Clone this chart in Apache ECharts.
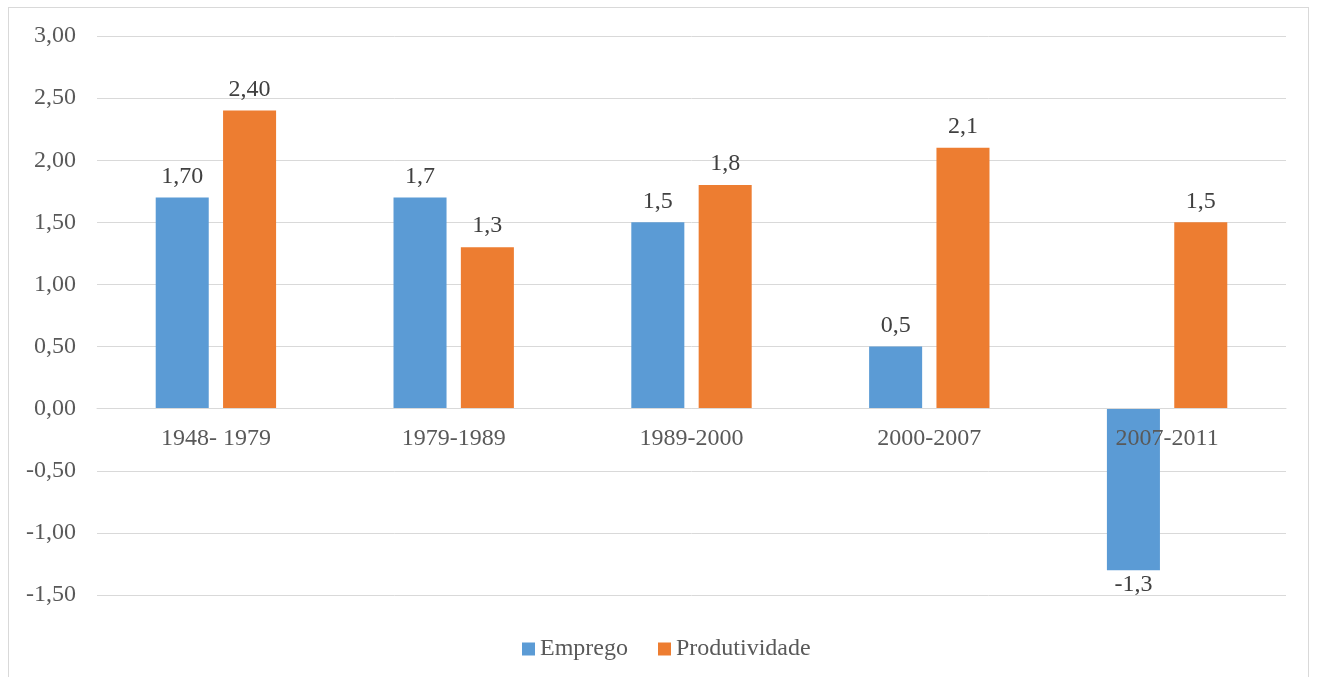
<!DOCTYPE html>
<html>
<head>
    <meta charset="utf-8">
    <title>Emprego e Produtividade</title>
    <style>
        html, body { margin: 0; padding: 0; background: #fff; }
        #frame { position: absolute; left: 8px; top: 7px; width: 1301px; height: 680px; border: 1px solid #d9d9d9; box-sizing: border-box; }
        #chart1 { position: absolute; left: 0; top: 0; width: 1319px; height: 677px; }
    </style>
</head>
<body>
<div id="frame"></div>
<div id="chart1"></div>
<script src="https://cdn.jsdelivr.net/npm/echarts@6/dist/echarts.min.js"></script>
<script type="text/javascript">
    // dados do gráfico
    const periodos = ['1948- 1979', '1979-1989', '1989-2000', '2000-2007', '2007-2011'];
    const emprego = [1.7, 1.7, 1.5, 0.5, -1.3];
    const produtividade = [2.4, 1.3, 1.8, 2.1, 1.5];
    // rótulos como aparecem no original
    const rotulosEmprego = ['1,70', '1,7', '1,5', '0,5', '-1,3'];
    const rotulosProdutividade = ['2,40', '1,3', '1,8', '2,1', '1,5'];

    const fonte = '"Liberation Serif", "Times New Roman", serif';

    function montar(valores, rotulos) {
        return valores.map((v, i) => ({
            value: v,
            label: v < 0
                ? { position: 'bottom', distance: 3, formatter: rotulos[i] }
                : { position: 'top', distance: 9, formatter: rotulos[i] }
        }));
    }

    let myChart1 = echarts.init(document.getElementById('chart1'));
    myChart1.setOption({
        animation: false,
        grid: { left: 97, right: 33, top: 36, bottom: 82 },
        legend: {
            bottom: 11,
            left: 517,
            icon: 'rect',
            itemWidth: 13,
            itemHeight: 13,
            itemGap: 30,
            itemStyle: { borderWidth: 0 },
            textStyle: { fontFamily: fonte, fontSize: 24, color: '#595959' },
            data: ['Emprego', 'Produtividade']
        },
        xAxis: {
            type: 'category',
            data: periodos,
            axisLine: { onZero: false, lineStyle: { color: '#d9d9d9' } },
            axisTick: { show: false },
            axisLabel: { fontFamily: fonte, fontSize: 24, color: '#595959', margin: 18 },
            z: 10
        },
        yAxis: {
            type: 'value',
            min: -1.5,
            max: 3,
            interval: 0.5,
            axisLine: { show: false },
            axisTick: { show: false },
            splitLine: { lineStyle: { color: '#d9d9d9' } },
            axisLabel: {
                fontFamily: fonte, fontSize: 24, color: '#595959', margin: 21,
                formatter: (v) => v.toFixed(2).replace('.', ',')
            }
        },
        series: [
            {
                name: 'Emprego',
                type: 'bar',
                barWidth: '22.3%',
                barGap: '27%',
                itemStyle: { color: '#5b9bd5' },
                label: { show: true, fontFamily: fonte, fontSize: 24, color: '#404040' },
                data: montar(emprego, rotulosEmprego)
            },
            {
                name: 'Produtividade',
                type: 'bar',
                barWidth: '22.3%',
                itemStyle: { color: '#ed7d31' },
                label: { show: true, fontFamily: fonte, fontSize: 24, color: '#404040' },
                data: montar(produtividade, rotulosProdutividade)
            }
        ]
    });

    // eixo das categorias sobre o zero: desloca o eixo a partir da escala
    const fundo = myChart1.convertToPixel({ yAxisIndex: 0 }, -1.5);
    const zero = myChart1.convertToPixel({ yAxisIndex: 0 }, 0);
    myChart1.setOption({ xAxis: { offset: zero - fundo } });
</script>
</body>
</html>
